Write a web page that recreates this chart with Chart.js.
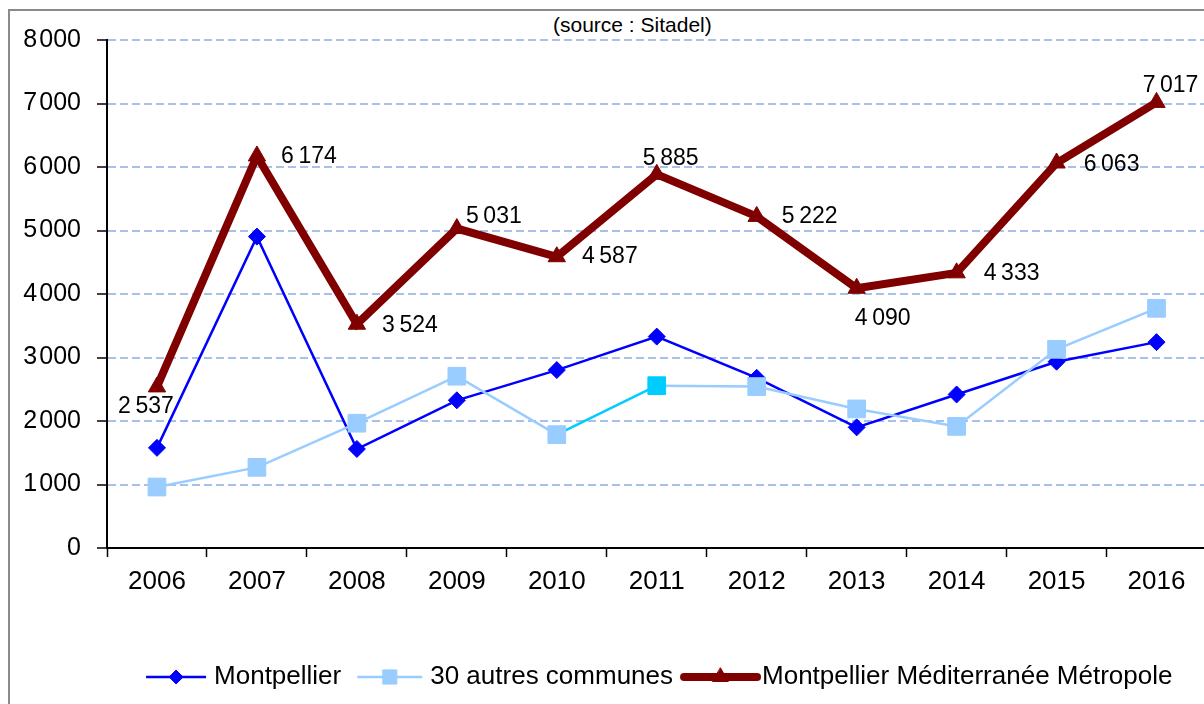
<!DOCTYPE html>
<html lang="fr">
<head>
<meta charset="utf-8">
<title>Logements autorisés</title>
<script src="https://cdn.jsdelivr.net/npm/chart.js@4.4.1/dist/chart.umd.min.js"></script>
<style>
    html, body { margin: 0; padding: 0; background: #fff; overflow: hidden; }
    body { width: 1204px; height: 704px; position: relative; font-family: "Liberation Sans", Arial, sans-serif; }
    .frame { position: absolute; left: 8px; top: 9px; width: 1300px; height: 800px; border: 2px solid #8a8a8a; }
    .source { position: absolute; left: 553px; top: 13px; font-size: 21px; color: #000; }
    #chart { position: absolute; left: 0; top: 0; }
</style>
</head>
<body>
<div class="frame"></div>
<div class="source">(source : Sitadel)</div>
<canvas id="chart" width="1220" height="704"></canvas>

<script>
"use strict";

const years = ['2006', '2007', '2008', '2009', '2010', '2011', '2012', '2013', '2014', '2015', '2016'];
const montpellier = [1577, 4904, 1559, 2326, 2802, 3329, 2680, 1900, 2418, 2934, 3242];
const autresCommunes = [960, 1270, 1965, 2705, 1785, 2556, 2542, 2190, 1915, 3129, 3775];
const metropole = [2537, 6174, 3524, 5031, 4587, 5885, 5222, 4090, 4333, 6063, 7017];
const yTicks = [0, 1000, 2000, 3000, 4000, 5000, 6000, 7000, 8000];

// decalage des etiquettes de la metropole par rapport au point
const labelOffsets = [[-11, 20], [52, 1], [53, 1], [37, -12], [53, 0], [14, -16], [53, 0], [26, 30], [55, 1], [55, 2], [14, -17]];

const FONT = '"Liberation Sans", Arial, sans-serif';
Chart.defaults.font.family = FONT;
Chart.defaults.color = '#000';

const formatNumber = (n, sep) => {
    if (n < 1000) return String(n);
    return Math.floor(n / 1000) + (sep || '\u2009') + String(n % 1000).padStart(3, '0');
};

/**
 * petite image de legende : trait + marqueur
 */
const makeSwatch = (color, lineWidth, pointStyle, radius, x0, x1) => {
    const c = document.createElement('canvas');
    c.width = 84;
    c.height = 28;
    const ctx = c.getContext('2d');
    ctx.strokeStyle = color;
    ctx.fillStyle = color;
    ctx.lineWidth = lineWidth;
    ctx.lineCap = lineWidth > 4 ? 'round' : 'butt';
    ctx.beginPath();
    ctx.moveTo(x0, 14);
    ctx.lineTo(x1, 14);
    ctx.stroke();
    ctx.lineWidth = 1;
    Chart.helpers.drawPoint(ctx, {pointStyle: pointStyle, radius: radius, rotation: 0, borderWidth: 1}, (x0 + x1) / 2, 14);
    return c;
};

const swatches = [
    makeSwatch('#0000ff', 2.5, 'rectRot', 7, 17, 77),
    makeSwatch('#99ccff', 2.5, 'rect', 10, 12, 77),
    makeSwatch('#800000', 8, 'triangle', 9, 7, 80),
];

const valueLabels = {
    id: 'valueLabels',
    afterDatasetsDraw(chart) {
        const meta = chart.getDatasetMeta(2);
        const ctx = chart.ctx;
        ctx.save();
        ctx.font = '23px ' + FONT;
        ctx.fillStyle = '#000';
        ctx.textAlign = 'center';
        ctx.textBaseline = 'middle';
        meta.data.forEach((pt, i) => {
            const [dx, dy] = labelOffsets[i];
            ctx.fillText(formatNumber(metropole[i]), pt.x + dx, pt.y + dy);
        });
        ctx.restore();
    }
};

const chart = new Chart(document.getElementById('chart').getContext('2d'), {
    type: 'line',
    data: {
        labels: years,
        datasets: [{
            label: 'Montpellier',
            data: montpellier,
            order: 3,
            tension: 0,
            borderColor: '#0000ff',
            backgroundColor: '#0000ff',
            borderWidth: 2.5,
            pointStyle: 'rectRot',
            pointRadius: 8.5,
            pointBorderWidth: 1,
        }, {
            label: '30 autres communes',
            data: autresCommunes,
            order: 2,
            tension: 0,
            borderColor: '#99ccff',
            backgroundColor: '#99ccff',
            borderWidth: 2.5,
            pointStyle: 'rect',
            pointRadius: 12.5,
            pointBorderWidth: 1,
            pointBackgroundColor: years.map((y) => y === '2011' ? '#00ccff' : '#99ccff'),
            pointBorderColor: years.map((y) => y === '2011' ? '#00ccff' : '#99ccff'),
            segment: {
                borderColor: (ctx) => years[ctx.p1DataIndex] === '2011' ? '#00ccff' : undefined,
            },
        }, {
            label: 'Montpellier Méditerranée Métropole',
            data: metropole,
            order: 1,
            tension: 0,
            borderColor: '#800000',
            backgroundColor: '#800000',
            borderWidth: 8,
            borderJoinStyle: 'miter',
            pointStyle: 'triangle',
            pointRadius: 10,
            pointBorderWidth: 1,
        }]
    },
    options: {
        responsive: false,
        animation: false,
        devicePixelRatio: 1,
        layout: {
            padding: {top: 40, right: 7, bottom: 4, left: 0}
        },
        plugins: {
            title: {display: false},
            tooltip: {enabled: false},
            legend: {
                position: 'bottom',
                fullSize: false,
                labels: {
                    usePointStyle: true,
                    pointStyleWidth: 60,
                    padding: 16,
                    color: '#000',
                    font: {size: 26},
                    sort: (a, b) => a.datasetIndex - b.datasetIndex,
                    generateLabels: (chart) => {
                        const items = Chart.defaults.plugins.legend.labels.generateLabels(chart);
                        items.forEach((item) => {
                            item.pointStyle = swatches[item.datasetIndex];
                        });
                        return items;
                    }
                }
            },
        },
        scales: {
            x: {
                offset: true,
                afterFit: (scale) => { scale.height = 100; },
                grid: {
                    offset: true,
                    drawOnChartArea: false,
                    tickLength: 9,
                    tickColor: '#000',
                    tickWidth: 1.5,
                },
                border: {display: true, color: '#000', width: 2},
                ticks: {
                    font: {size: 26},
                    color: '#000',
                    padding: 9,
                    maxRotation: 0,
                },
            },
            y: {
                min: 0,
                max: 8000,
                afterFit: (scale) => { scale.width = 107; },
                afterBuildTicks: (scale) => { scale.ticks = yTicks.map((v) => ({value: v})); },
                grid: {
                    color: (ctx) => ctx.tick && ctx.tick.value === 0 ? 'rgba(0,0,0,0)' : '#a9c0e8',
                    lineWidth: 2,
                    tickLength: 10,
                    tickColor: '#000',
                    tickWidth: 1.5,
                    tickBorderDash: [],
                },
                border: {display: true, color: '#000', width: 2, dash: [8, 4]},
                ticks: {
                    font: {size: 25},
                    color: '#000',
                    padding: 16,
                    callback: (v) => formatNumber(v, '\u200a'),
                },
            }
        }
    },
    plugins: [valueLabels],
});
</script>
</body>
</html>
